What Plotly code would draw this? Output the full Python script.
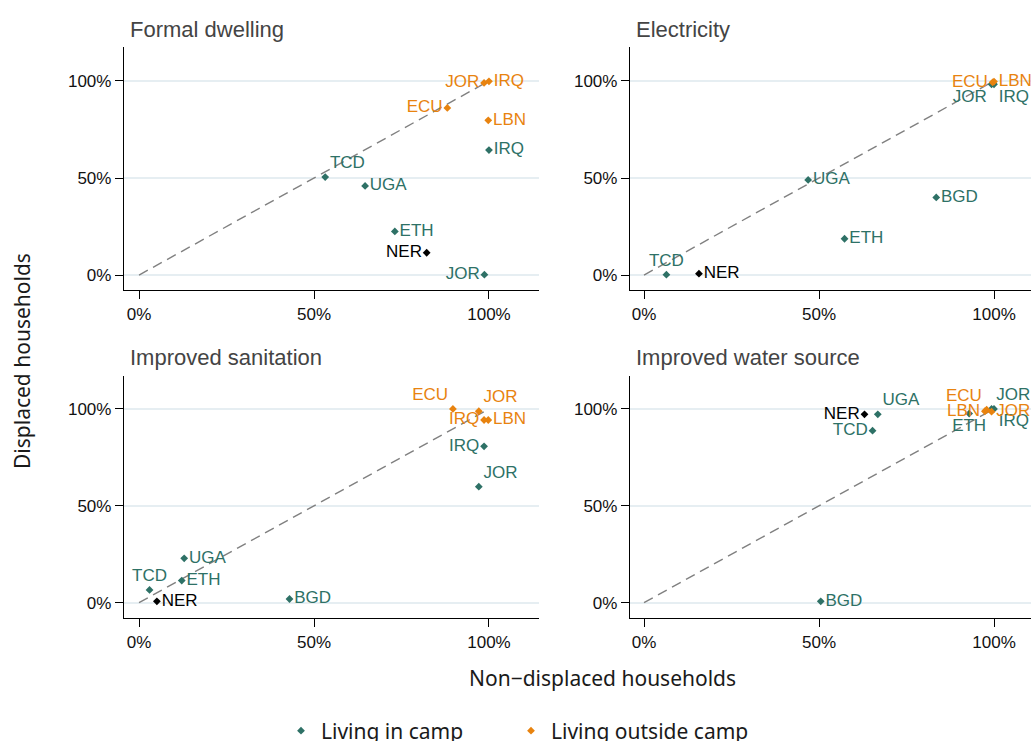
import plotly.graph_objects as go

W, H = 1031, 741

TEAL = "#2e7166"
ORANGE = "#e8830f"
BLACK = "#000000"

titles = ["Formal dwelling", "Electricity", "Improved sanitation", "Improved water source"]
diag = [0, 100]

# ---- Formal dwelling ----
fd_camp_iso = ["TCD", "UGA", "ETH", "IRQ", "JOR"]
fd_camp_x = [53.2, 64.6, 73.1, 100.0, 98.7]
fd_camp_y = [50.5, 45.9, 22.5, 64.4, 0.2]
fd_camp_pos = ["top right", "middle right", "middle right", "middle right", "middle left"]
fd_out_iso = ["JOR", "IRQ", "ECU", "LBN"]
fd_out_x = [98.6, 100.0, 88.1, 99.8]
fd_out_y = [99.0, 99.8, 86.1, 79.7]
fd_out_pos = ["middle left", "middle right", "middle left", "middle right"]
fd_oth_iso = ["NER"]
fd_oth_x = [82.2]
fd_oth_y = [11.5]
fd_oth_pos = ["middle left"]

# ---- Electricity ----
el_camp_iso = ["TCD", "UGA", "ETH", "BGD", "JOR", "IRQ"]
el_camp_x = [6.4, 46.9, 57.3, 83.5, 99.3, 100.0]
el_camp_y = [0.2, 49.0, 18.7, 40.0, 98.3, 98.3]
el_camp_pos = ["top center", "middle right", "middle right", "middle right", "bottom left", "bottom right"]
el_out_iso = ["ECU", "LBN"]
el_out_x = [99.6, 100.0]
el_out_y = [99.3, 99.7]
el_out_pos = ["middle left", "middle right"]
el_oth_iso = ["NER"]
el_oth_x = [15.7]
el_oth_y = [0.7]
el_oth_pos = ["middle right"]

# ---- Improved sanitation ----
sa_camp_iso = ["IRQ", "JOR", "UGA", "TCD", "ETH", "BGD"]
sa_camp_x = [98.6, 97.1, 12.9, 3.0, 12.2, 43.0]
sa_camp_y = [80.7, 59.9, 22.9, 6.6, 11.4, 1.9]
sa_camp_pos = ["middle left", "top right", "middle right", "top center", "middle right", "middle right"]
sa_out_iso = ["ECU", "JOR", "IRQ", "LBN"]
sa_out_x = [89.7, 97.1, 98.6, 99.8]
sa_out_y = [100.0, 98.8, 94.3, 94.3]
sa_out_pos = ["top left", "top right", "middle left", "middle right"]
sa_oth_iso = ["NER"]
sa_oth_x = [5.1]
sa_oth_y = [0.7]
sa_oth_pos = ["middle right"]

# ---- Improved water source ----
wa_camp_iso = ["UGA", "TCD", "BGD", "ETH", "JOR", "IRQ"]
wa_camp_x = [66.8, 65.3, 50.5, 92.9, 99.3, 100.0]
wa_camp_y = [97.2, 88.8, 0.7, 97.6, 100.0, 100.0]
wa_camp_pos = ["top right", "middle left", "middle right", "bottom center", "top right", "bottom right"]
wa_out_iso = ["LBN", "ECU", "JOR"]
wa_out_x = [97.4, 97.9, 99.3]
wa_out_y = [98.8, 99.6, 98.6]
wa_out_pos = ["middle left", "top left", "middle right"]
wa_oth_iso = ["NER"]
wa_oth_x = [63.0]
wa_oth_y = [97.2]
wa_oth_pos = ["middle left"]

panels = [
    (fd_camp_iso, fd_camp_x, fd_camp_y, fd_camp_pos, fd_out_iso, fd_out_x, fd_out_y, fd_out_pos,
     fd_oth_iso, fd_oth_x, fd_oth_y, fd_oth_pos),
    (el_camp_iso, el_camp_x, el_camp_y, el_camp_pos, el_out_iso, el_out_x, el_out_y, el_out_pos,
     el_oth_iso, el_oth_x, el_oth_y, el_oth_pos),
    (sa_camp_iso, sa_camp_x, sa_camp_y, sa_camp_pos, sa_out_iso, sa_out_x, sa_out_y, sa_out_pos,
     sa_oth_iso, sa_oth_x, sa_oth_y, sa_oth_pos),
    (wa_camp_iso, wa_camp_x, wa_camp_y, wa_camp_pos, wa_out_iso, wa_out_x, wa_out_y, wa_out_pos,
     wa_oth_iso, wa_oth_x, wa_oth_y, wa_oth_pos),
]

tick_vals = [0, 50, 100]
tick_text = ["0%", "50%", "100%"]

LABEL_FONT = "Liberation Sans, Arial, sans-serif"
TITLE_FONT = "Noto Sans, sans-serif"


def px_x(px):
    return px / W


def px_y(py):
    return 1 - py / H


fig = go.Figure()

for i, p in enumerate(panels):
    (ci, cx, cy, cp, oi, ox, oy, op, ni, nx, ny, npos) = p
    xa = "x" if i == 0 else f"x{i+1}"
    ya = "y" if i == 0 else f"y{i+1}"
    fig.add_trace(go.Scatter(
        x=diag, y=diag, mode="lines", xaxis=xa, yaxis=ya,
        line=dict(color="#808080", width=1.4, dash="10px,6px"),
        showlegend=False, hoverinfo="skip"))
    for iso, xs, ys, pos, col, name, leg in [
        (ci, cx, cy, cp, TEAL, "Living in camp", "legend"),
        (oi, ox, oy, op, ORANGE, "Living outside camp", "legend2"),
        (ni, nx, ny, npos, BLACK, "Other", "legend"),
    ]:
        fig.add_trace(go.Scatter(
            x=xs, y=ys, text=iso, mode="markers+text", textposition=pos,
            xaxis=xa, yaxis=ya, name=name, cliponaxis=False, legend=leg,
            marker=dict(symbol="diamond", size=6, color=col),
            textfont=dict(family=LABEL_FONT, size=17, color=col),
            showlegend=(i == 0 and name != "Other"), legendgroup=name))

# geometry (reference screenshot pixels)
left_dom = [px_x(124), px_x(539)]
right_dom = [px_x(630), 1.0]
top_dom = [px_y(290), px_y(47)]
bot_dom = [px_y(618), px_y(376)]
left_rng = [-4.3, 114.3]
right_rng = [-4.0, (W - 644) / 3.5]
top_rng = [-7.7, 117.5]
bot_rng = [-7.9, 117.0]


def xax(dom, rng, anchor):
    return dict(domain=dom, range=rng, anchor=anchor, showgrid=False, zeroline=False,
                showline=True, linecolor="#000000", linewidth=1.3,
                ticks="outside", ticklen=8, tickwidth=1.3, tickcolor="#000000",
                tickvals=tick_vals, ticktext=tick_text,
                tickfont=dict(family=LABEL_FONT, size=17, color="#111111"))


def yax(dom, rng, anchor):
    return dict(domain=dom, range=rng, anchor=anchor, showgrid=True, gridcolor="#e6eef2",
                gridwidth=1.5, zeroline=False,
                showline=True, linecolor="#000000", linewidth=1.3,
                ticks="outside", ticklen=8, tickwidth=1.3, tickcolor="#000000",
                tickvals=tick_vals, ticktext=tick_text,
                tickfont=dict(family=LABEL_FONT, size=17, color="#111111"))


annotations = []
title_pos = [(128, 29), (634, 29), (128, 357), (634, 357)]
for t, (px, py) in zip(titles, title_pos):
    annotations.append(dict(text=t, x=px_x(px), y=px_y(py), xref="paper", yref="paper",
                            xanchor="left", yanchor="middle", showarrow=False,
                            font=dict(family=LABEL_FONT, size=22, color="#444444")))
annotations.append(dict(text="Non\u2212displaced households", x=px_x(602), y=px_y(678),
                        xref="paper", yref="paper", xanchor="center", yanchor="middle",
                        showarrow=False, font=dict(family=TITLE_FONT, size=21, color="#1a1a1a")))
annotations.append(dict(text="Displaced households", x=px_x(22), y=px_y(361), textangle=-90,
                        xref="paper", yref="paper", xanchor="center", yanchor="middle",
                        showarrow=False, font=dict(family=TITLE_FONT, size=21, color="#1a1a1a")))

legend_common = dict(orientation="h", y=px_y(731), xanchor="left", yanchor="middle",
                     font=dict(family=TITLE_FONT, size=21, color="#1a1a1a"),
                     bgcolor="rgba(0,0,0,0)")

fig.update_layout(
    width=W, height=H, autosize=False,
    margin=dict(l=0, r=0, t=0, b=0, autoexpand=False),
    paper_bgcolor="white", plot_bgcolor="white",
    xaxis=xax(left_dom, left_rng, "y"),
    yaxis=yax(top_dom, top_rng, "x"),
    xaxis2=xax(right_dom, right_rng, "y2"),
    yaxis2=yax(top_dom, top_rng, "x2"),
    xaxis3=xax(left_dom, left_rng, "y3"),
    yaxis3=yax(bot_dom, bot_rng, "x3"),
    xaxis4=xax(right_dom, right_rng, "y4"),
    yaxis4=yax(bot_dom, bot_rng, "x4"),
    annotations=annotations,
    showlegend=True,
    legend=dict(x=px_x(281), **legend_common),
    legend2=dict(x=px_x(511), **legend_common),
)

fig.write_html("out.html", config={"displayModeBar": False},
               post_script="document.body.style.margin='0';document.body.style.overflow='hidden';")
